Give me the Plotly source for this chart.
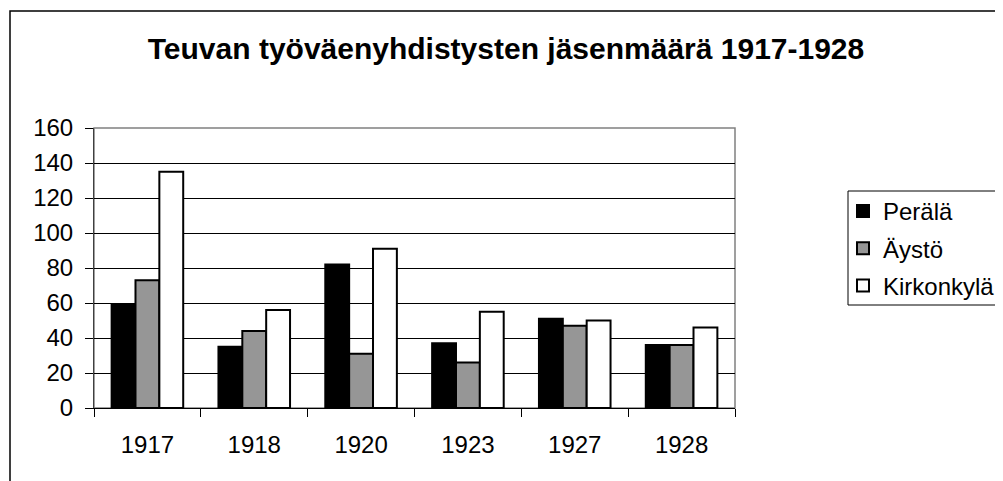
import plotly.graph_objects as go

years = ["1917", "1918", "1920", "1923", "1927", "1928"]
perala = [59, 35, 82, 37, 51, 36]
aysto = [73, 44, 31, 26, 47, 36]
kirkonkyla = [135, 56, 91, 55, 50, 46]
series_names = ["Perälä", "Äystö", "Kirkonkylä"]
series_colors = ["#000000", "#969696", "#ffffff"]
title_text = "Teuvan työväenyhdistysten jäsenmäärä 1917-1928"

FONT = "Liberation Sans, Arial, sans-serif"

fig = go.Figure()
for i, (name, vals, col) in enumerate(zip(series_names, [perala, aysto, kirkonkyla], series_colors)):
    fig.add_trace(go.Bar(
        x=years, y=vals, name=name, legendgroup=f"g{i}",
        marker=dict(color=col, line=dict(color="#000000", width=2)),
    ))

OFF = 8  # page body margin offset
W, H = 1003 - OFF, 481 - OFF
L = 94 - OFF
T = 128 - OFF
R = W - (735 - OFF)
B = H - (408 - OFF)
pw, ph = W - L - R, H - T - B

def px2x(px):
    return (px - OFF - L) / pw

def px2y(py):
    return (H - B - (py - OFF)) / ph

shapes = [
    # outer chart frame (extends beyond the right and bottom edges)
    dict(type="rect", xref="paper", yref="paper", x0=px2x(10), x1=1.6, y0=-0.5, y1=px2y(11),
         line=dict(color="#000000", width=1.5), fillcolor="rgba(0,0,0,0)", layer="below"),
    # plot area border
    dict(type="rect", xref="paper", yref="paper", x0=0, x1=1, y0=0, y1=1,
         line=dict(color="#808080", width=1.5), fillcolor="rgba(0,0,0,0)", layer="below"),
    # legend box
    dict(type="rect", xref="paper", yref="paper", x0=px2x(848), x1=1.6, y0=px2y(305), y1=px2y(191),
         line=dict(color="#000000", width=1), fillcolor="rgba(0,0,0,0)", layer="below"),
]

fig.update_layout(
    width=W, height=H,
    margin=dict(l=L, r=R, t=T, b=B, pad=0, autoexpand=False),
    paper_bgcolor="white", plot_bgcolor="white",
    font=dict(family=FONT, size=24, color="#000000"),
    title=dict(text=f"<b>{title_text}</b>", x=(506 - OFF) / W, xref="container", xanchor="center",
               y=1 - (48 - OFF) / H, yref="container", yanchor="middle",
               font=dict(family=FONT, size=30, color="#000000")),
    barmode="group", bargap=0.33, bargroupgap=0,
    showlegend=True,
    legend=dict(x=px2x(843), y=px2y(189), xanchor="left", yanchor="top",
                bgcolor="rgba(0,0,0,0)", borderwidth=0, tracegroupgap=3,
                font=dict(family=FONT, size=24, color="#000000")),
    shapes=shapes,
)

fig.update_xaxes(
    type="category", showline=True, linecolor="#000000", linewidth=1,
    ticks="outside", tickson="boundaries", ticklen=8, tickcolor="#000000", tickwidth=1,
    showgrid=False, ticklabelstandoff=15, automargin=False,
    tickfont=dict(family=FONT, size=24, color="#000000"),
)
fig.update_yaxes(
    range=[0, 160], dtick=20, tick0=0,
    showline=True, linecolor="#404040", linewidth=1,
    ticks="outside", ticklen=8, tickcolor="#000000", tickwidth=1,
    showgrid=True, gridcolor="#000000", gridwidth=1, zeroline=False,
    ticklabelstandoff=7, automargin=False,
    tickfont=dict(family=FONT, size=24, color="#000000"),
)

fig.write_html("out.html")
